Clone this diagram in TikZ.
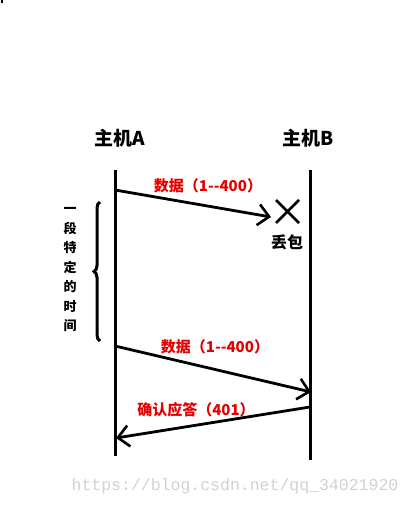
\documentclass[tikz,border=0pt]{standalone}
\usepackage{fontspec}
\newfontfamily\cjk{Noto Sans CJK SC}
\newfontfamily\wmfont{Liberation Mono}
\usetikzlibrary{arrows.meta,decorations.pathreplacing}
\begin{document}
\begin{tikzpicture}[x=1pt,y=-1pt,
  lifeline/.style={line width=3pt},
  msg/.style={line width=2.8pt,-{Straight Barb[length=11pt,width=21pt,line width=2.6pt]}},
  title/.style={font=\cjk\bfseries\fontsize{19}{19}\selectfont},
  redlabel/.style={font=\cjk\bfseries\fontsize{15}{15}\selectfont,text=red!90!black},
  blk/.style={font=\cjk\bfseries\fontsize{16}{16}\selectfont}]
\useasboundingbox (0,0) rectangle (412,505);
\fill (0.5,0.5) rectangle (3,3);
% titles
\node[title] (ta) at (120,138) {主机A};
\node[title] (tb) at (308,138) {主机B};
% lifelines
\coordinate (a0) at (115,170); \coordinate (a1) at (115,456);
\coordinate (b0) at (310,170); \coordinate (b1) at (310,460);
\draw[lifeline] (a0) -- (a1);
\draw[lifeline] (b0) -- (b1);
% message 1 (lost)
\coordinate (m1s) at (115,190); \coordinate (m1e) at (271,217);
\draw[msg] (m1s) -- (m1e);
\node[redlabel] (l1) at (208,186) {数据（1--400）};
\coordinate (x0) at (276,200); \coordinate (x1) at (299,223);
\coordinate (x2) at (299,200); \coordinate (x3) at (276,223);
\draw[line width=2.8pt] (x0) -- (x1) (x2) -- (x3);
\node[blk] (lost) at (287,242) {丢包};
% brace
\coordinate (br0) at (100,341); \coordinate (br1) at (100,202);
\draw[line width=3pt,decorate,decoration={brace,amplitude=6pt}] (br0) -- (br1);
\node[font=\cjk\bfseries\fontsize{13}{19.5}\selectfont,align=center,inner sep=0pt] (tm) at (70,270)
  {一\\段\\特\\定\\的\\时\\间};
% message 2
\coordinate (m2s) at (115,346); \coordinate (m2e) at (311,392);
\draw[msg] (m2s) -- (m2e);
\node[redlabel] (l2) at (215,347) {数据（1--400）};
% message 3
\coordinate (m3s) at (310,407); \coordinate (m3e) at (116,438);
\draw[msg] (m3s) -- (m3e);
\node[redlabel] (l3) at (196,410) {确认应答（401）};
% watermark
\node[font=\wmfont\fontsize{16.5}{16.5}\selectfont,text=black!18] (wm) at (235,486) {https://blog.csdn.net/qq\_34021920};
\end{tikzpicture}
\end{document}
